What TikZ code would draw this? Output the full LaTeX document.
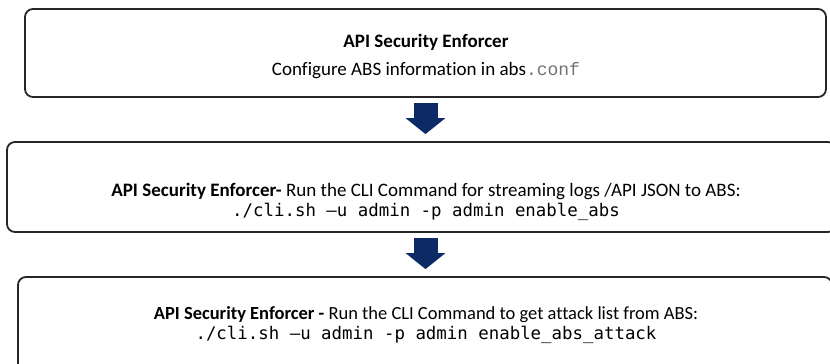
\documentclass[tikz,border=0pt]{standalone}
\usepackage{fontspec}
\setmainfont{Carlito}[Ligatures=NoCommon]
\newfontfamily\codefont{DejaVu Sans Mono}
\newfontfamily\conffont{Liberation Mono}
\usepackage{xcolor}
\usetikzlibrary{arrows.meta}

\definecolor{arrowblue}{HTML}{0C2A66}
\definecolor{boxline}{HTML}{262626}

\tikzset{
  stepbox/.style={draw=boxline, line width=1.8pt, rounded corners=8pt, inner sep=0pt},
  steptext/.style={align=center, font=\fontsize{19}{20}\selectfont},
  flowarrow/.style={draw=arrowblue, line width=24pt,
    -{Triangle[width=39pt, length=16pt]}, shorten <=5pt, shorten >=7pt}
}
\newcommand{\clicode}[1]{{\codefont\fontsize{17.4}{20}\selectfont #1}}

\begin{document}
\begin{tikzpicture}[x=1pt, y=-1pt]
  \useasboundingbox (0,0) rectangle (830,364);
  % the three steps
  \node[stepbox, minimum width=801pt, minimum height=88pt] (conf) at (425.5,53) {};
  \node[stepbox, minimum width=829pt, minimum height=90pt] (stream) at (421.5,187) {};
  \node[stepbox, minimum width=814pt, minimum height=108pt] (attack) at (425,331) {};
  \node[steptext, font=\fontsize{19}{28}\selectfont] (confText) at (426,56)
    {\textbf{API Security Enforcer}\\ Configure ABS information in abs{\conffont\fontsize{18}{20}\selectfont\color{black!55}.conf}};
  \node[steptext] (streamText) at (426,202)
    {\textbf{API Security Enforcer-} Run the CLI Command for streaming logs /API JSON to ABS:\\
     \clicode{./cli.sh –u admin -p admin enable\_abs}};
  \node[steptext, font=\fontsize{18.5}{20}\selectfont] (attackText) at (426,325)
    {\textbf{API Security Enforcer -} Run the CLI Command to get attack list from ABS:\\
     \clicode{./cli.sh –u admin -p admin enable\_abs\_attack}};
  % arrows between steps
  \draw[flowarrow] (conf.south) -- (conf.south |- stream.north);
  \draw[flowarrow] (stream.south -| conf.south) -- (conf.south |- attack.north);
\end{tikzpicture}
\end{document}
